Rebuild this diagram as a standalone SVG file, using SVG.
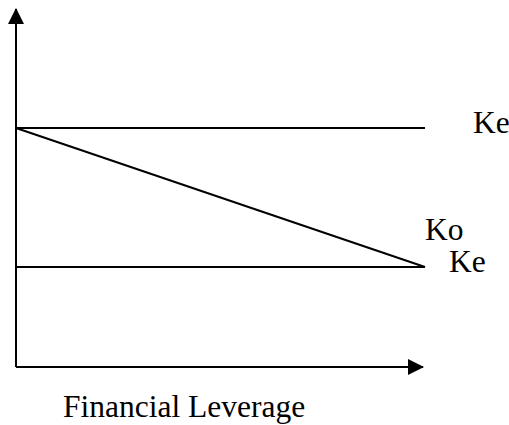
<svg xmlns="http://www.w3.org/2000/svg" width="509" height="425" viewBox="0 0 509 425">
<style>
.ln{stroke:#000;stroke-width:2;fill:none}
</style>
<defs>
<marker id="ah" markerWidth="16" markerHeight="16" refX="15" refY="8" orient="auto" markerUnits="userSpaceOnUse" viewBox="0 0 16 16">
<path d="M0,0 L16,8 L0,16 Z" fill="#000"/>
</marker>
</defs>
<rect width="509" height="425" fill="#fff"/>
<g id="connectors">
<line class="ln" x1="16" y1="367" x2="16" y2="9" marker-end="url(#ah)"/>
<line class="ln" x1="16" y1="367" x2="423" y2="367" marker-end="url(#ah)"/>
<line class="ln" x1="16" y1="128" x2="425" y2="128"/>
<line class="ln" x1="16" y1="267" x2="425" y2="267"/>
<line class="ln" x1="16" y1="128" x2="425" y2="267"/>
</g>
<g id="label-ke-top"><text x="473" y="133" font-family="Liberation Serif" font-size="31.5">Ke</text></g>
<g id="label-ko"><text x="425" y="240" font-family="Liberation Serif" font-size="31.5">Ko</text></g>
<g id="label-ke-bottom"><text x="449" y="272" font-family="Liberation Serif" font-size="31.5">Ke</text></g>
<g id="label-x-axis"><text x="63" y="417" font-family="Liberation Serif" font-size="31.5">Financial Leverage</text></g>
</svg>
